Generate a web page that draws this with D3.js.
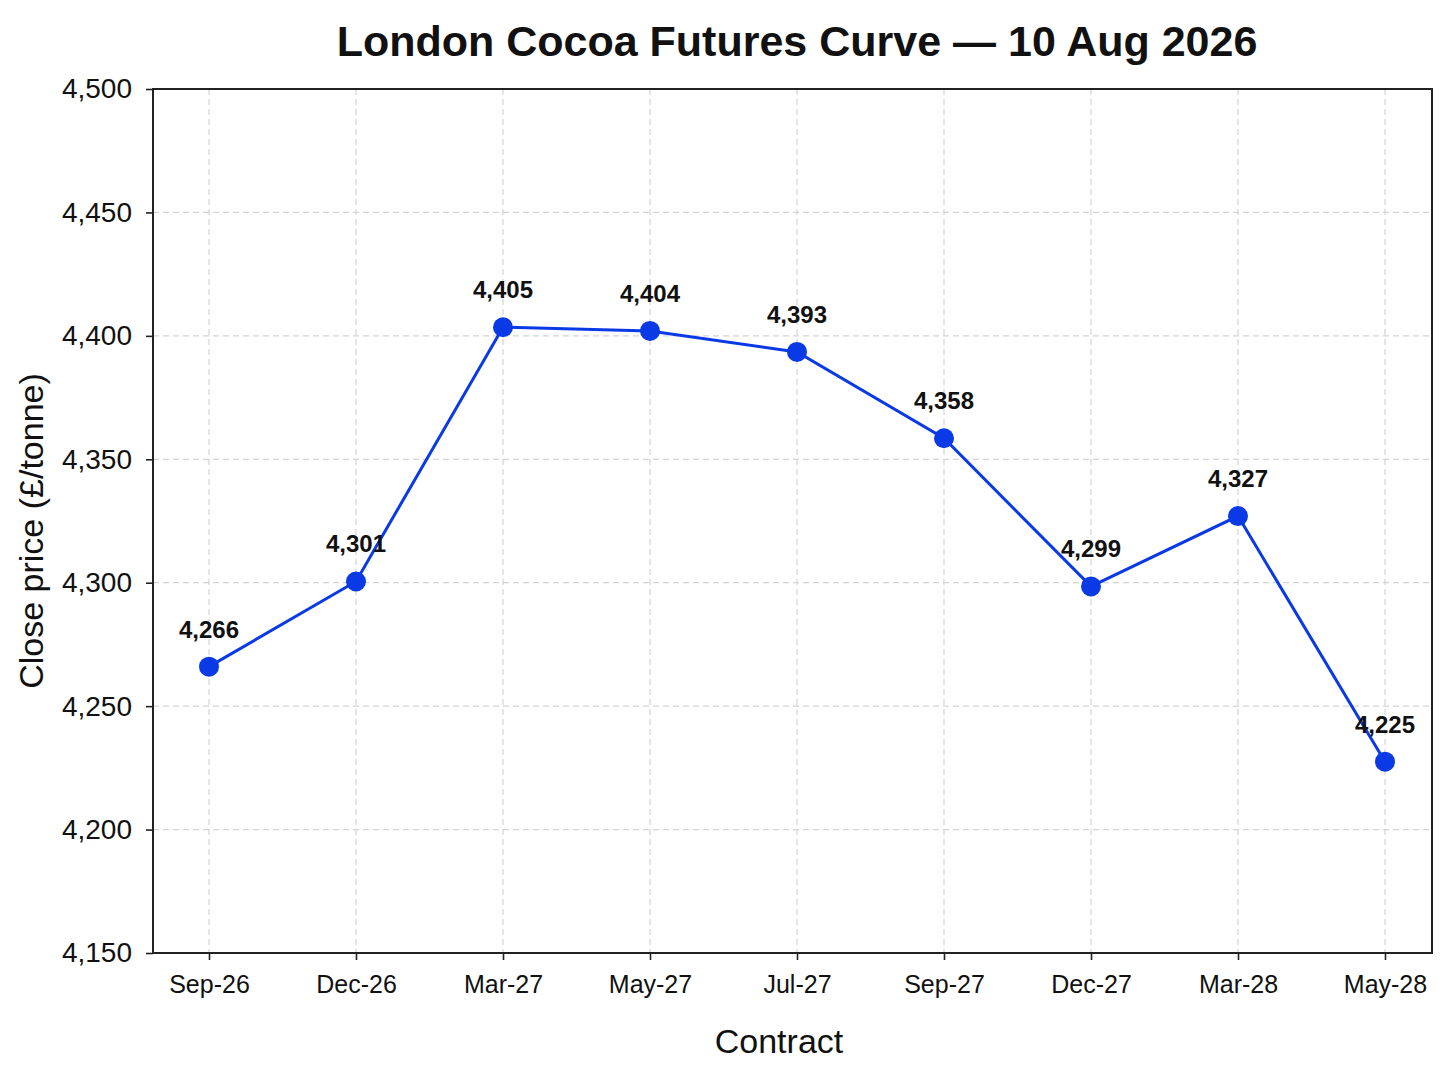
<!DOCTYPE html>
<html>
<head>
<meta charset="utf-8">
<script src="https://cdn.jsdelivr.net/npm/d3@7"></script>
<style>
  html, body { margin: 0; padding: 0; background: #fff; }
  svg { display: block; font-family: "Liberation Sans", Arial, sans-serif; }
</style>
</head>
<body>
<svg id="chart"></svg>
<script>
// ── Data ───────────────────────────────────────────────────────────────
const contracts = ['Sep-26', 'Dec-26', 'Mar-27', 'May-27', 'Jul-27', 'Sep-27', 'Dec-27', 'Mar-28', 'May-28'];
const closes = [4266, 4300.5, 4403.5, 4402, 4393.5, 4358.5, 4298.5, 4327, 4227.5];
const labelValues = [4266, 4301, 4405, 4404, 4393, 4358, 4299, 4327, 4225];
const yTicks = [4150, 4200, 4250, 4300, 4350, 4400, 4450, 4500];

const W = 1448, H = 1086;
const margin = { top: 89, right: 16, bottom: 133, left: 153 };
const iw = W - margin.left - margin.right;
const ih = H - margin.top - margin.bottom;

const svg = d3.select('#chart').attr('width', W).attr('height', H);

const x = d3.scalePoint().domain(contracts).range([56, iw - 47]);
const y = d3.scaleLinear().domain([4150, 4500]).range([ih, 0]);
const fmt = d3.format(',');

const g = svg.append('g').attr('transform', `translate(${margin.left},${margin.top})`);

// ── Grid ────────────────────────────────────────────────────────────────
g.append('g').selectAll('line').data(yTicks.slice(1, -1)).join('line')
  .attr('x1', 0).attr('x2', iw)
  .attr('y1', d => y(d)).attr('y2', d => y(d))
  .attr('stroke', '#d4d4d4').attr('stroke-width', 1.2).attr('stroke-dasharray', '6,4');

g.append('g').selectAll('line').data(contracts).join('line')
  .attr('x1', d => x(d)).attr('x2', d => x(d))
  .attr('y1', 0).attr('y2', ih)
  .attr('stroke', '#d4d4d4').attr('stroke-width', 1.2).attr('stroke-dasharray', '6,4');

// ── Axes ────────────────────────────────────────────────────────────────
const yAxis = g.append('g')
  .call(d3.axisLeft(y).tickValues(yTicks).tickFormat(fmt).tickSize(7).tickPadding(14));
yAxis.selectAll('text').attr('font-size', 28).attr('fill', '#111');

const xAxis = g.append('g').attr('transform', `translate(0,${ih})`)
  .call(d3.axisBottom(x).tickSize(7).tickPadding(15));
xAxis.selectAll('text').attr('font-size', 25).attr('fill', '#111');

[yAxis, xAxis].forEach(a => {
  a.select('.domain').remove();
  a.selectAll('line').attr('stroke', '#222').attr('stroke-width', 1.6);
});

// frame
g.append('rect')
  .attr('width', iw).attr('height', ih)
  .attr('fill', 'none').attr('stroke', '#222').attr('stroke-width', 2);

// ── Line + markers ──────────────────────────────────────────────────────
const line = d3.line()
  .x((d, i) => x(contracts[i]))
  .y(d => y(d));

g.append('path')
  .datum(closes)
  .attr('d', line)
  .attr('fill', 'none')
  .attr('stroke', '#0a3ae6')
  .attr('stroke-width', 3);

g.append('g').selectAll('circle').data(closes).join('circle')
  .attr('cx', (d, i) => x(contracts[i]))
  .attr('cy', d => y(d))
  .attr('r', 10)
  .attr('fill', '#0a3ae6');

// value labels
g.append('g').selectAll('text').data(closes).join('text')
  .attr('x', (d, i) => x(contracts[i]))
  .attr('y', d => y(d) - 29)
  .attr('text-anchor', 'middle')
  .attr('font-size', 24)
  .attr('font-weight', 'bold')
  .attr('fill', '#111')
  .text((d, i) => fmt(labelValues[i]));

// ── Titles ──────────────────────────────────────────────────────────────
svg.append('text')
  .attr('x', 797).attr('y', 56)
  .attr('text-anchor', 'middle')
  .attr('font-size', 43).attr('font-weight', 'bold').attr('fill', '#111')
  .text('London Cocoa Futures Curve — 10 Aug 2026');

svg.append('text')
  .attr('x', 779).attr('y', 1053)
  .attr('text-anchor', 'middle')
  .attr('font-size', 34).attr('fill', '#111')
  .text('Contract');

svg.append('text')
  .attr('transform', 'translate(43,531) rotate(-90)')
  .attr('text-anchor', 'middle')
  .attr('font-size', 34).attr('fill', '#111')
  .text('Close price (£/tonne)');
</script>
</body>
</html>
